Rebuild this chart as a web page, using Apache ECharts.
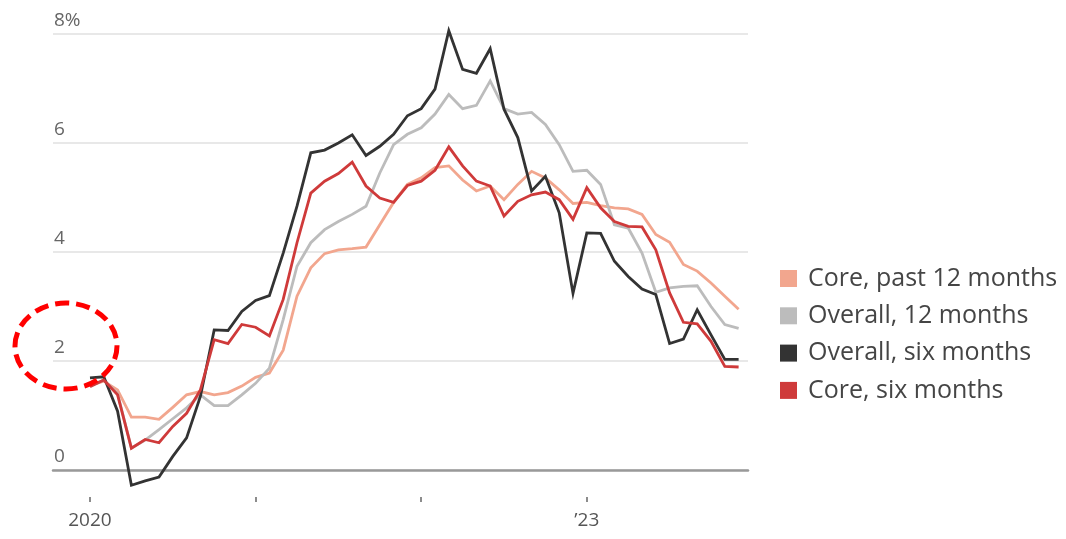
<!DOCTYPE html>
<html>
<head>
<meta charset="utf-8">
<script src="https://cdn.jsdelivr.net/npm/echarts@6/dist/echarts.min.js"></script>
<style>
  html, body { margin: 0; padding: 0; background: #ffffff; }
  #chart { width: 1066px; height: 539px; }
</style>
</head>
<body>
<div id="chart"></div>
<script>
// Monthly inflation rates, annualized, Jan 2020 – Dec 2023 (percent)
const months = [];
for (let y = 2020; y <= 2023; y++) {
  for (let m = 1; m <= 12; m++) months.push(y + '-' + String(m).padStart(2, '0'));
}

const corePast12 = [1.55, 1.63, 1.47, 0.97, 0.97, 0.93, 1.15, 1.38, 1.44, 1.38, 1.42, 1.54,
  1.70, 1.78, 2.20, 3.19, 3.71, 3.97, 4.04, 4.06, 4.09, 4.50, 4.91, 5.24,
  5.36, 5.55, 5.58, 5.32, 5.12, 5.21, 4.96, 5.24, 5.48, 5.36, 5.14, 4.89,
  4.91, 4.85, 4.81, 4.79, 4.69, 4.32, 4.18, 3.77, 3.65, 3.43, 3.19, 2.95];

const overall12 = [1.55, 1.65, 1.40, 0.40, 0.55, 0.74, 0.94, 1.14, 1.38, 1.18, 1.18, 1.38,
  1.59, 1.87, 2.76, 3.74, 4.17, 4.41, 4.56, 4.69, 4.84, 5.45, 5.97, 6.16,
  6.28, 6.53, 6.89, 6.63, 6.69, 7.14, 6.63, 6.53, 6.56, 6.34, 5.97, 5.48,
  5.50, 5.24, 4.50, 4.44, 3.98, 3.26, 3.34, 3.37, 3.38, 3.00, 2.67, 2.60];

const overallSix = [1.69, 1.71, 1.08, -0.28, -0.20, -0.13, 0.25, 0.59, 1.35, 2.57, 2.56, 2.91,
  3.11, 3.20, 3.98, 4.84, 5.82, 5.87, 6.00, 6.15, 5.77, 5.94, 6.16, 6.50,
  6.63, 6.99, 8.06, 7.35, 7.28, 7.73, 6.62, 6.10, 5.12, 5.39, 4.72, 3.24,
  4.35, 4.34, 3.83, 3.55, 3.32, 3.22, 2.32, 2.40, 2.94, 2.48, 2.03, 2.03];

const coreSix = [1.53, 1.65, 1.38, 0.40, 0.56, 0.50, 0.80, 1.04, 1.47, 2.39, 2.32, 2.67,
  2.62, 2.46, 3.13, 4.17, 5.08, 5.30, 5.44, 5.65, 5.21, 4.99, 4.91, 5.22,
  5.30, 5.50, 5.93, 5.58, 5.30, 5.21, 4.66, 4.93, 5.05, 5.10, 4.96, 4.60,
  5.18, 4.81, 4.56, 4.47, 4.46, 4.04, 3.25, 2.71, 2.68, 2.36, 1.90, 1.89];

// x ticks sit on January of each year (month index from Jan 2020)
const xTickValues = [0, 12, 24, 36];
const xTickLabels = ['2020', '', '', '\u201923'];

const seriesDefs = [
  { name: 'Core, past 12 months', values: corePast12, color: '#f2a68e' },
  { name: 'Overall, 12 months', values: overall12, color: '#bcbcbc' },
  { name: 'Overall, six months', values: overallSix, color: '#333333' },
  { name: 'Core, six months', values: coreSix, color: '#cf3a3a' }
];

const FONT = '"Open Sans", "Noto Sans", sans-serif';
const chart = echarts.init(document.getElementById('chart'), null, { renderer: 'canvas' });

const xMin = -2.68, xMax = 47.68;

chart.setOption({
  animation: false,
  backgroundColor: '#ffffff',
  grid: { left: 53, right: 318, top: 34, bottom: 69, containLabel: false },
  legend: {
    orient: 'vertical',
    left: 775,
    top: 261,
    icon: 'rect',
    itemWidth: 17,
    itemHeight: 17,
    itemGap: 12.3,
    selectedMode: false,
    textStyle: {
      fontFamily: FONT,
      fontSize: 25,
      color: '#454545',
      lineHeight: 24,
      padding: [0, 0, 0, 6]
    },
    data: seriesDefs.map(s => s.name)
  },
  xAxis: [
    {
      // ticks and year labels, set a little below the zero line
      type: 'value',
      min: xMin,
      max: xMax,
      offset: 27,
      axisLine: { show: false, onZero: false },
      splitLine: { show: false },
      axisTick: {
        show: true,
        length: 5,
        customValues: xTickValues,
        lineStyle: { color: '#8c8c8c', width: 2 }
      },
      axisLabel: {
        customValues: xTickValues,
        formatter: v => xTickLabels[xTickValues.indexOf(v)] || '',
        fontFamily: FONT,
        fontSize: 19,
        color: '#555555',
        margin: 14
      }
    },
    {
      // zero baseline
      type: 'value',
      min: xMin,
      max: xMax,
      position: 'bottom',
      axisLine: { show: true, lineStyle: { color: '#999999', width: 2.5 } },
      axisTick: { show: false },
      axisLabel: { show: false },
      splitLine: { show: false }
    }
  ],
  yAxis: {
    type: 'value',
    min: 0,
    max: 8,
    interval: 2,
    axisLine: { show: false },
    axisTick: { show: false },
    splitLine: {
      show: true,
      lineStyle: { color: '#e8e8e8', width: 2 }
    },
    axisLabel: {
      inside: true,
      margin: 1,
      verticalAlign: 'bottom',
      padding: [0, 0, 4, 0],
      fontFamily: FONT,
      fontSize: 19,
      color: '#666666',
      formatter: v => (v === 8 ? '8%' : String(v))
    }
  },
  series: seriesDefs.map((s, k) => ({
    name: s.name,
    type: 'line',
    xAxisIndex: 0,
    data: s.values.map((v, i) => [i, v]),
    showSymbol: false,
    symbol: 'none',
    clip: false,
    z: 2 + k,
    color: s.color,
    lineStyle: { color: s.color, width: 2.8, join: 'miter' }
  })),
  graphic: [
    {
      type: 'ellipse',
      shape: { cx: 66, cy: 346, rx: 51, ry: 43 },
      z: 100,
      style: {
        fill: 'none',
        stroke: '#ff0000',
        lineWidth: 5,
        lineDash: [14, 7]
      }
    }
  ]
});
</script>
</body>
</html>
